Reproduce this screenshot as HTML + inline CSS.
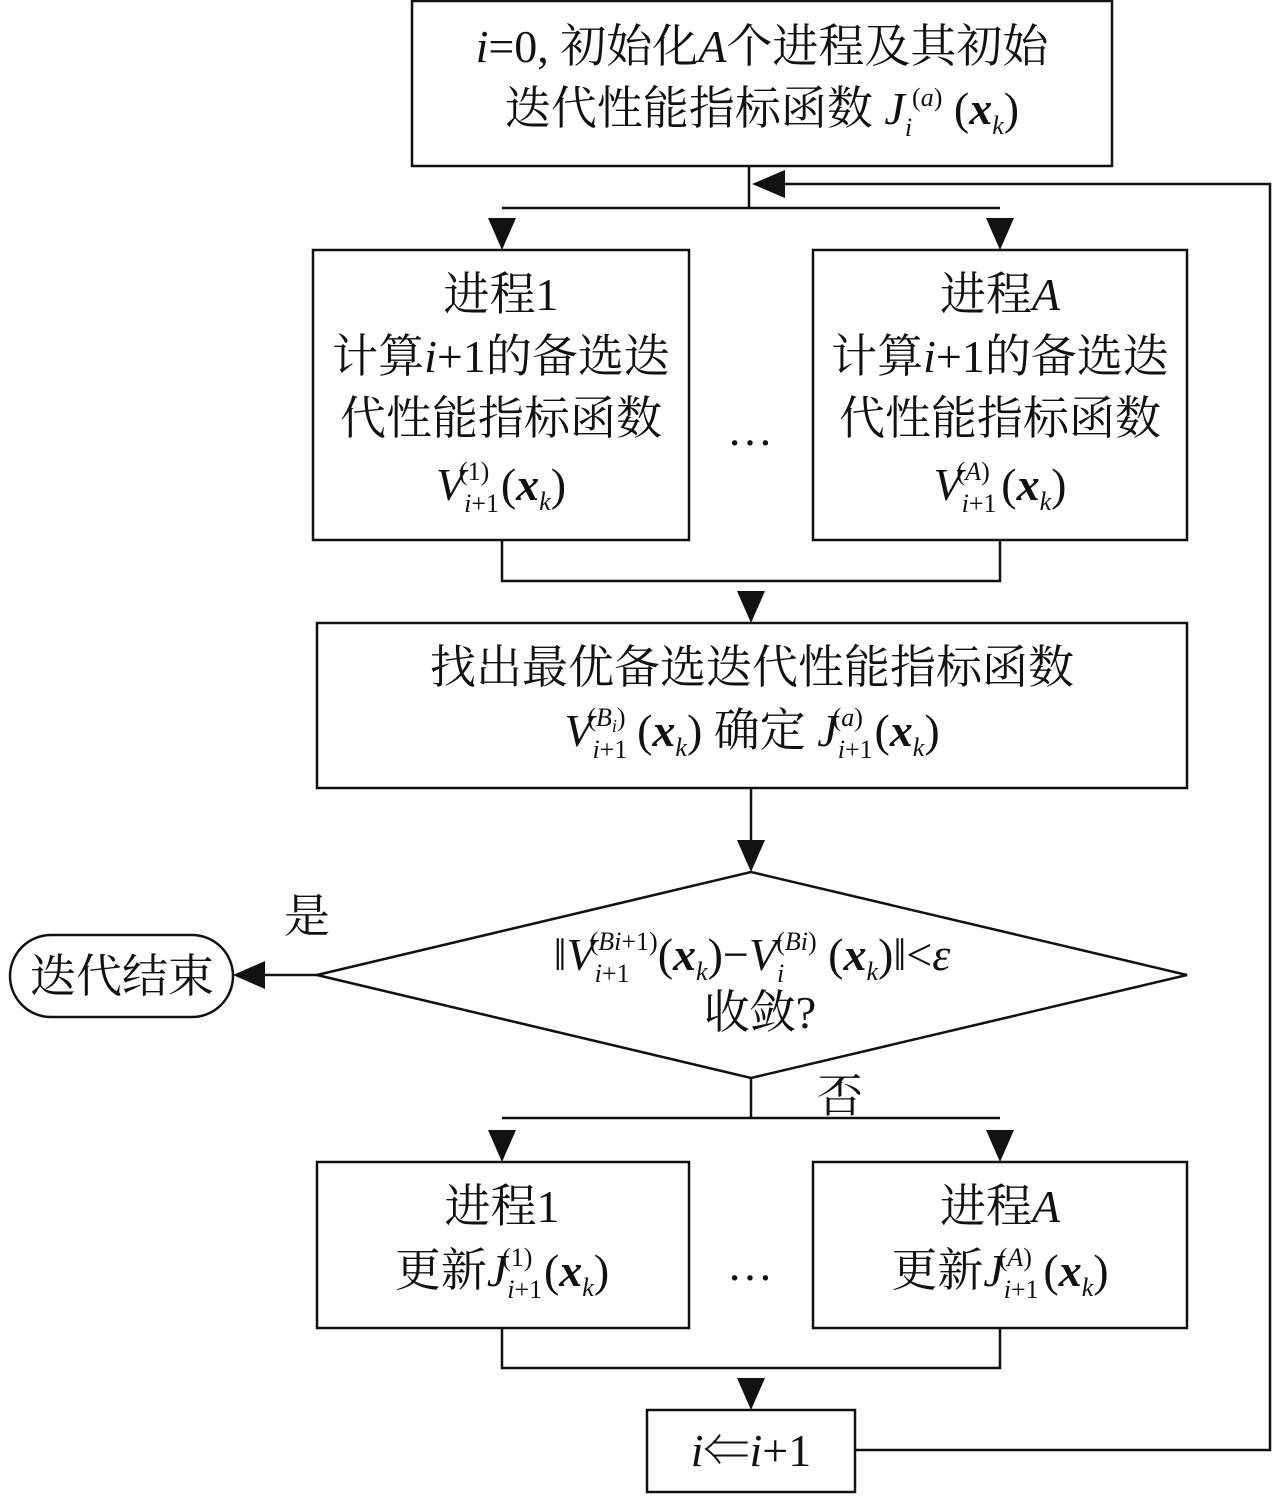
<!DOCTYPE html>
<html><head><meta charset="utf-8"><style>
html,body{margin:0;padding:0;background:#fff;}
svg{display:block;}
text{font-family:"Liberation Serif","Noto Serif CJK SC",serif;font-size:46px;fill:#111;}
.s{font-size:26px;}
.i{font-style:italic;}
.b{font-weight:bold;font-style:italic;}
</style></head><body>
<svg width="1280" height="1496" viewBox="0 0 1280 1496" xmlns="http://www.w3.org/2000/svg">
<defs><marker id="a" markerWidth="10" markerHeight="10" refX="9" refY="5" orient="auto" markerUnits="userSpaceOnUse" viewBox="0 0 10 10"><path d="M0,0 L10,5 L0,10Z" fill="#111"/></marker></defs>
<g stroke="#111" stroke-width="2.5" fill="none">
<rect x="412" y="1" width="700" height="165"/>
<rect x="313" y="250" width="376" height="290"/>
<rect x="813" y="250" width="374" height="290"/>
<rect x="317" y="623" width="870" height="165"/>
<polygon points="751,872 1187,975 751,1078 317,975"/>
<rect x="10" y="935" width="223" height="82" rx="41"/>
<rect x="317" y="1162" width="372" height="166"/>
<rect x="813" y="1162" width="374" height="166"/>
<rect x="647" y="1410" width="208" height="82"/>
<path d="M749,166 V208 M502,208 H1000 M502,540 V581 H1000 V540 M751,788 V800 M751,1078 V1118 M502,1118 H1000 M502,1328 V1368 H1000 V1328 M855,1450 H1270 V184 H785"/>
</g>
<g fill="#111">
<path d="M488,218 L516,218 L502,250Z"/><path d="M986,218 L1014,218 L1000,250Z"/>
<path d="M737,591 L765,591 L751,623Z"/><path d="M737,840 L765,840 L751,872Z"/>
<path d="M488,1130 L516,1130 L502,1162Z"/><path d="M986,1130 L1014,1130 L1000,1162Z"/>
<path d="M737,1378 L765,1378 L751,1410Z"/>
<path d="M752,184 L785,170 L785,198Z"/>
<path d="M233,975 L265,961 L265,989Z"/>
</g>
<line x1="751" y1="800" x2="751" y2="842" stroke="#111" stroke-width="2.5"/>
<line x1="317" y1="975" x2="262" y2="975" stroke="#111" stroke-width="2.5"/>

<text x="762" y="62" text-anchor="middle"><tspan class="i">i</tspan>=0, 初始化<tspan class="i">A</tspan>个进程及其初始</text>
<text x="762" y="124" text-anchor="middle">迭代性能指标函数 <tspan class="i">J</tspan><tspan class="s i" dy="12">i</tspan><tspan class="s" dy="-30">(<tspan class="i">a</tspan>)</tspan><tspan dy="18"> (</tspan><tspan class="b">x</tspan><tspan class="s i" dy="10">k</tspan><tspan dy="-10">)</tspan></text>

<text x="501" y="310" text-anchor="middle">进程1</text>
<text x="501" y="372" text-anchor="middle">计算<tspan class="i">i</tspan>+1的备选迭</text>
<text x="501" y="434" text-anchor="middle">代性能指标函数</text>
<text x="501" y="500" text-anchor="middle"><tspan class="i">V</tspan><tspan class="s" dy="12"><tspan class="i">i</tspan>+1</tspan><tspan class="s" dy="-32" dx="-40">(1)</tspan><tspan dy="20"> (</tspan><tspan class="b">x</tspan><tspan class="s i" dy="10">k</tspan><tspan dy="-10">)</tspan></text>

<text x="1000" y="310" text-anchor="middle">进程<tspan class="i">A</tspan></text>
<text x="1000" y="372" text-anchor="middle">计算<tspan class="i">i</tspan>+1的备选迭</text>
<text x="1000" y="434" text-anchor="middle">代性能指标函数</text>
<text x="1000" y="500" text-anchor="middle"><tspan class="i">V</tspan><tspan class="s" dy="12"><tspan class="i">i</tspan>+1</tspan><tspan class="s" dy="-32" dx="-40">(<tspan class="i">A</tspan>)</tspan><tspan dy="20"> (</tspan><tspan class="b">x</tspan><tspan class="s i" dy="10">k</tspan><tspan dy="-10">)</tspan></text>

<text x="750" y="445" text-anchor="middle">…</text>
<text x="750" y="1280" text-anchor="middle">…</text>

<text x="752" y="683" text-anchor="middle">找出最优备选迭代性能指标函数</text>
<text x="752" y="746" text-anchor="middle"><tspan class="i">V</tspan><tspan class="s" dy="12"><tspan class="i">i</tspan>+1</tspan><tspan class="s" dy="-32" dx="-40">(<tspan class="i">B<tspan font-size="18" dy="6">i</tspan></tspan><tspan dy="-6">)</tspan></tspan><tspan dy="20"> (</tspan><tspan class="b">x</tspan><tspan class="s i" dy="10">k</tspan><tspan dy="-10">) 确定 </tspan><tspan class="i">J</tspan><tspan class="s" dy="12"><tspan class="i">i</tspan>+1</tspan><tspan class="s" dy="-32" dx="-40">(<tspan class="i">a</tspan>)</tspan><tspan dy="20"> (</tspan><tspan class="b">x</tspan><tspan class="s i" dy="10">k</tspan><tspan dy="-10">)</tspan></text>

<text x="752" y="970" text-anchor="middle">‖<tspan class="i">V</tspan><tspan class="s" dy="12"><tspan class="i">i</tspan>+1</tspan><tspan class="s" dy="-32" dx="-40">(<tspan class="i">B</tspan><tspan class="i">i</tspan>+1)</tspan><tspan dy="20">(</tspan><tspan class="b">x</tspan><tspan class="s i" dy="10">k</tspan><tspan dy="-10">)−</tspan><tspan class="i">V</tspan><tspan class="s i" dy="12">i</tspan><tspan class="s" dy="-32" dx="-8">(<tspan class="i">B</tspan><tspan class="i">i</tspan>)</tspan><tspan dy="20"> (</tspan><tspan class="b">x</tspan><tspan class="s i" dy="10">k</tspan><tspan dy="-10">)‖&lt;</tspan><tspan class="i">ε</tspan></text>
<text x="760" y="1028" text-anchor="middle">收敛?</text>

<text x="122" y="992" text-anchor="middle">迭代结束</text>
<text x="307" y="932" text-anchor="middle">是</text>
<text x="840" y="1112" text-anchor="middle">否</text>

<text x="502" y="1222" text-anchor="middle">进程1</text>
<text x="502" y="1286" text-anchor="middle">更新<tspan class="i">J</tspan><tspan class="s" dy="12"><tspan class="i">i</tspan>+1</tspan><tspan class="s" dy="-32" dx="-40">(1)</tspan><tspan dy="20"> (</tspan><tspan class="b">x</tspan><tspan class="s i" dy="10">k</tspan><tspan dy="-10">)</tspan></text>
<text x="1000" y="1222" text-anchor="middle">进程<tspan class="i">A</tspan></text>
<text x="1000" y="1286" text-anchor="middle">更新<tspan class="i">J</tspan><tspan class="s" dy="12"><tspan class="i">i</tspan>+1</tspan><tspan class="s" dy="-32" dx="-40">(<tspan class="i">A</tspan>)</tspan><tspan dy="20"> (</tspan><tspan class="b">x</tspan><tspan class="s i" dy="10">k</tspan><tspan dy="-10">)</tspan></text>

<text x="751" y="1466" text-anchor="middle"><tspan class="i">i</tspan>⇐<tspan class="i">i</tspan>+1</text>
</svg>
</body></html>
